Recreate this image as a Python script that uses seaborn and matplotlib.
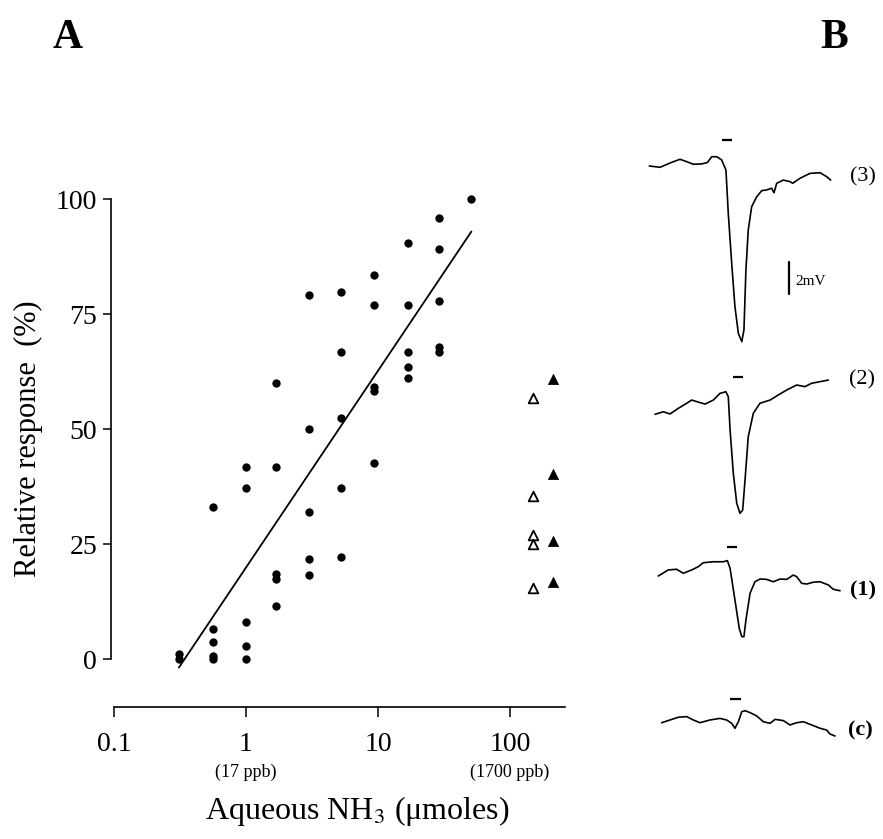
import numpy as np
import pandas as pd
import matplotlib
matplotlib.use("Agg")
import matplotlib.pyplot as plt
import matplotlib.transforms as mtransforms
import seaborn as sns

# ---------------- Panel A data ----------------
dose_umol = [0.31, 0.31,
             0.56, 0.56, 0.56, 0.56, 0.56,
             1.0, 1.0, 1.0, 1.0, 1.0,
             1.7, 1.7, 1.7, 1.7, 1.7,
             3.0, 3.0, 3.0, 3.0, 3.0,
             5.2, 5.2, 5.2, 5.2, 5.2,
             9.4, 9.4, 9.4, 9.4, 9.4,
             17, 17, 17, 17, 17,
             29, 29, 29, 29, 29,
             51]
response_pct = [1.2, 0.0,
                33.1, 6.5, 3.8, 0.7, 0.0,
                41.8, 37.2, 8.1, 2.9, 0.0,
                60.0, 41.7, 18.5, 17.5, 11.5,
                79.3, 50.1, 32.1, 21.7, 18.4,
                79.9, 66.7, 52.4, 37.2, 22.3,
                83.5, 77.0, 59.2, 58.3, 42.7,
                90.6, 77.0, 66.7, 63.5, 61.2,
                95.9, 89.3, 78.0, 67.9, 66.7,
                100.0]

open_tri_dose = [150, 150, 150, 150, 150]
open_tri_resp = [56.7, 35.5, 27.0, 25.0, 15.4]
filled_tri_dose = [210, 210, 210, 210]
filled_tri_resp = [61.0, 40.2, 25.7, 16.9]

x_ticks = [0.1, 1, 10, 100]
x_ticklabels = ["0.1", "1", "10", "100"]
x_sublabels = {1: "(17 ppb)", 100: "(1700 ppb)"}
y_ticks = [0, 25, 50, 75, 100]

# ---------------- Panel B data (time in s, voltage in mV rel. to trace start) ----------------
t3 = [0.07, 0.67, 1.32, 1.78, 2.15, 2.52, 2.98, 3.29, 3.54, 3.82, 4.09, 4.33, 4.46, 4.65, 4.83,
      5.02, 5.21, 5.33, 5.44, 5.57, 5.76, 6.04, 6.32, 6.59, 6.87, 7.00, 7.15, 7.52, 7.89, 8.04,
      8.44, 9.00, 9.56, 9.93, 10.15]
v3 = [0.00, -0.08, 0.23, 0.42, 0.27, 0.11, 0.13, 0.21, 0.58, 0.58, 0.38, -0.25, -2.96, -6.08, -8.79,
      -10.46, -10.98, -10.25, -6.50, -4.00, -2.54, -1.92, -1.54, -1.50, -1.39, -1.67, -1.08, -0.88, -0.98, -1.08,
      -0.77, -0.46, -0.42, -0.67, -0.88]

t2 = [0.39, 0.85, 1.22, 1.68, 2.15, 2.43, 2.89, 3.17, 3.63, 4.00, 4.33, 4.46, 4.56, 4.74, 4.93,
      5.11, 5.26, 5.39, 5.57, 5.85, 6.22, 6.78, 7.24, 7.71, 8.26, 8.72, 9.09, 9.56, 10.02]
v2 = [0.00, 0.16, 0.02, 0.37, 0.69, 0.89, 0.73, 0.64, 0.89, 1.31, 1.41, 1.10, -0.98, -3.69, -5.56,
      -6.19, -5.98, -4.11, -1.40, 0.06, 0.69, 0.89, 1.21, 1.52, 1.83, 1.73, 1.94, 2.04, 2.14]

t1 = [0.57, 1.13, 1.59, 1.96, 2.43, 2.79, 3.07, 3.63, 4.18, 4.41, 4.56, 4.83, 5.07, 5.21, 5.33,
      5.44, 5.67, 5.94, 6.22, 6.59, 6.96, 7.33, 7.71, 8.07, 8.26, 8.54, 8.82, 9.18, 9.56, 10.02,
      10.29, 10.67]
v1 = [0.00, 0.38, 0.42, 0.17, 0.38, 0.58, 0.83, 0.89, 0.89, 0.96, 0.48, -1.50, -3.27, -3.79, -3.79,
      -2.75, -1.08, -0.36, -0.19, -0.21, -0.36, -0.19, -0.21, 0.06, -0.04, -0.46, -0.50, -0.39, -0.36, -0.56,
      -0.83, -0.92]

tc = [0.76, 1.22, 1.68, 2.15, 2.52, 2.89, 3.44, 4.00, 4.37, 4.65, 4.83, 5.02, 5.21, 5.39, 5.67,
      6.04, 6.41, 6.78, 7.06, 7.52, 7.89, 8.26, 8.63, 9.09, 9.56, 9.93, 10.11, 10.39]
vc = [0.00, 0.17, 0.34, 0.38, 0.17, 0.00, 0.17, 0.27, 0.17, -0.04, -0.35, 0.06, 0.69, 0.75, 0.63,
      0.42, 0.06, -0.04, 0.21, 0.13, -0.14, 0.00, 0.06, -0.14, -0.35, -0.46, -0.71, -0.83]

trace_names = ["(3)", "(2)", "(1)", "(c)"]
stim_on_s = [4.09, 4.72, 4.37, 4.56]
stim_off_s = [4.65, 5.28, 4.96, 5.15]
scale_bar_mv = 2

# ---------------- layout / style ----------------
W, H = 883, 839
def fx(px): return px / W
def fy(py): return 1 - py / H

sns.set_style("ticks")
plt.rcParams['font.family'] = ['Liberation Serif', 'DejaVu Serif']
plt.rcParams['mathtext.fontset'] = 'stix'
for k in ('text.color', 'axes.labelcolor', 'xtick.color', 'ytick.color', 'axes.edgecolor'):
    plt.rcParams[k] = 'black'

fig = plt.figure(figsize=(W / 100, H / 100), dpi=100)

# Panel A axes
axA = fig.add_axes([fx(111), fy(707), fx(565) - fx(111), fy(190) - fy(707)])
axA.set_xscale('log')
px_dec = 132.0
axA.set_xlim(10 ** (-1 - 3 / px_dec), 10 ** (-1 + (565 - 114) / px_dec))
px_unit = 4.6
axA.set_ylim(-(707 - 659.3) / px_unit, (659.3 - 190) / px_unit)

dfA = pd.DataFrame({"dose": dose_umol, "resp": response_pct})
sns.regplot(data=dfA, x="dose", y="resp", logx=True, scatter=False, ci=None,
            color="black", line_kws={"lw": 1.3}, ax=axA)
sns.scatterplot(data=dfA, x="dose", y="resp", s=36, color="black", linewidth=0, ax=axA)
sns.scatterplot(x=open_tri_dose, y=open_tri_resp, marker="^", s=48, color="white",
                edgecolor="black", linewidth=1.3, ax=axA)
sns.scatterplot(x=filled_tri_dose, y=filled_tri_resp, marker="^", s=55, color="black",
                edgecolor="black", linewidth=0.5, ax=axA)

axA.set_xticks(x_ticks)
axA.set_xticklabels(x_ticklabels)
axA.xaxis.set_minor_locator(matplotlib.ticker.NullLocator())
axA.set_yticks(y_ticks)
axA.set_yticklabels([str(v) for v in y_ticks])
axA.tick_params(axis='both', which='major', direction='out', width=1.1, labelsize=20, colors='black')
axA.tick_params(axis='y', length=6, pad=4)
axA.tick_params(axis='x', length=7, pad=11)
sns.despine(ax=axA)
axA.spines['left'].set_bounds(0, 100)
axA.spines['bottom'].set_bounds(0.1, axA.get_xlim()[1])
for s in ('left', 'bottom'):
    axA.spines[s].set_linewidth(1.2)
    axA.spines[s].set_color('black')

blend = mtransforms.blended_transform_factory(axA.transData, axA.transAxes)
for xv, lab in x_sublabels.items():
    axA.text(xv, (707 - 772) / 517, lab, transform=blend, ha='center', va='center', fontsize=13)

axA.set_xlabel("Aqueous NH$_3$ ($\\mathregular{\\mu}$moles)", fontsize=23)
axA.xaxis.set_label_coords((357 - 111) / 454, (707 - 794) / 517)
axA.set_ylabel("Relative response  (%)", fontsize=22)
axA.yaxis.set_label_coords((43 - 111) / 454, (707 - 439) / 517)

fig.text(fx(67.5), fy(38), "A", fontsize=30, fontweight='bold', ha='center', va='center')
fig.text(fx(834), fy(38), "B", fontsize=30, fontweight='bold', ha='center', va='center')

# Panel B axes
axB = fig.add_axes([fx(640), fy(760), fx(850) - fx(640), fy(120) - fy(760)])
px_s, px_mv = 18.0, 16.0
x0_px, y0_px = 648, 166
axB.set_xlim((640 - x0_px) / px_s, (850 - x0_px) / px_s)
axB.set_ylim((y0_px - 760) / px_mv, (y0_px - 120) / px_mv)
axB.axis('off')

trace_t = [t3, t2, t1, tc]
trace_v = [v3, v2, v1, vc]
baseline_px = [166, 414.3, 576, 722.7]
stim_px = [140, 377, 546.7, 699.3]
for i in range(4):
    off = (y0_px - baseline_px[i]) / px_mv
    sns.lineplot(x=trace_t[i], y=np.array(trace_v[i]) + off, sort=False, estimator=None,
                 color="black", lw=1.2, ax=axB)
    ys = (y0_px - stim_px[i]) / px_mv
    axB.plot([stim_on_s[i], stim_off_s[i]], [ys, ys], color="black", lw=1.6, solid_capstyle='butt')

label_pos = [(863, 177), (862, 380), (863, 590), (860, 730)]
label_bold = [False, False, True, True]
for name, (lx, ly), b in zip(trace_names, label_pos, label_bold):
    fig.text(fx(lx), fy(ly), name, fontsize=16, ha='center', va='center',
             fontweight='bold' if b else 'normal')

# scale bar
sb_t = (789 - x0_px) / px_s
sb_top = (y0_px - 261.7) / px_mv
axB.plot([sb_t, sb_t], [sb_top, sb_top - scale_bar_mv], color="black", lw=1.6)
fig.text(fx(795), fy(281), "2mV", fontsize=11, ha='left', va='center')

fig.savefig("out.png", dpi=100)
